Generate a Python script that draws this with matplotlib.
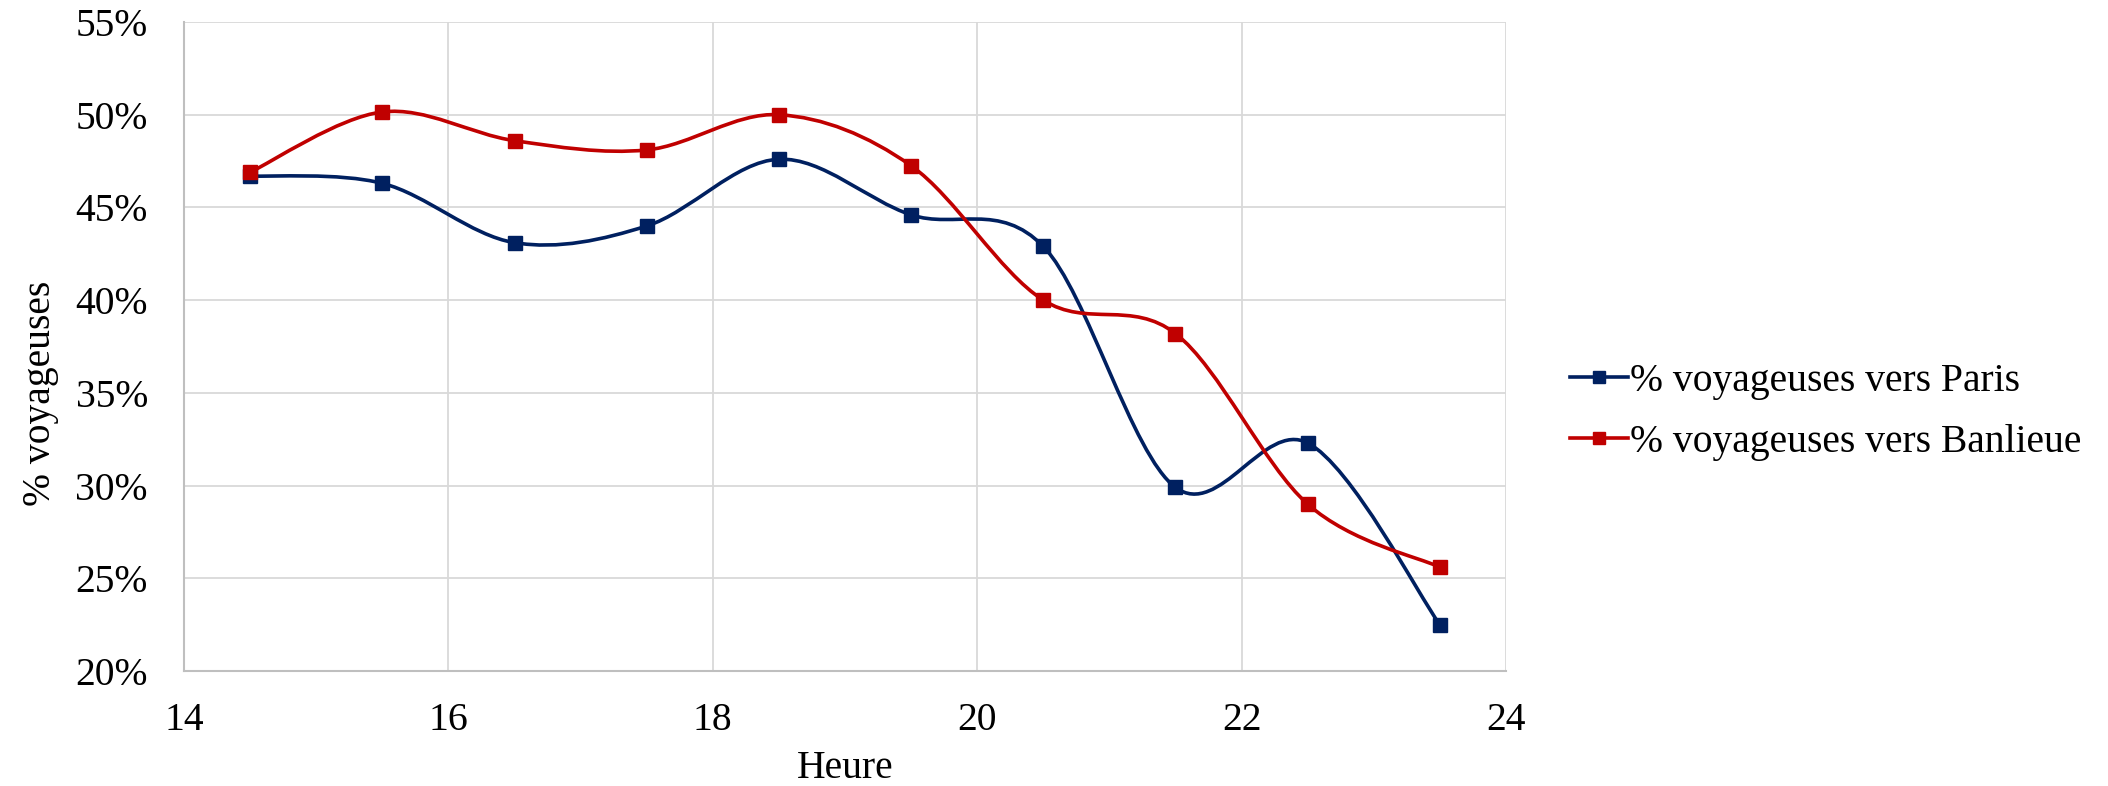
import numpy as np
import matplotlib
matplotlib.use('Agg')
import matplotlib.pyplot as plt
from matplotlib.path import Path
from matplotlib.patches import PathPatch
from matplotlib.lines import Line2D
from matplotlib.ticker import PercentFormatter

# Données
heures = [14.5, 15.5, 16.5, 17.5, 18.5, 19.5, 20.5, 21.5, 22.5, 23.5]
paris = [46.7, 46.3, 43.1, 44.0, 47.6, 44.6, 42.9, 29.9, 32.3, 22.5]
banlieue = [46.9, 50.15, 48.6, 48.1, 50.0, 47.25, 40.0, 38.2, 29.0, 25.6]

BLEU = '#002060'
ROUGE = '#C00000'
TAILLE = 28.5

plt.rcParams['font.family'] = ['Liberation Serif', 'DejaVu Serif']


def courbe_lissee(x, y):
    """Chemin de Bézier type Excel (Catmull-Rom) passant par les points."""
    x = np.asarray(x, float)
    y = np.asarray(y, float)
    n = len(x)
    verts = [(x[0], y[0])]
    codes = [Path.MOVETO]
    for i in range(n - 1):
        x0, y0 = (x[i - 1], y[i - 1]) if i > 0 else (x[i], y[i])
        x3, y3 = (x[i + 2], y[i + 2]) if i + 2 < n else (x[i + 1], y[i + 1])
        c1 = (x[i] + (x[i + 1] - x0) / 6, y[i] + (y[i + 1] - y0) / 6)
        c2 = (x[i + 1] - (x3 - x[i]) / 6, y[i + 1] - (y3 - y[i]) / 6)
        verts += [c1, c2, (x[i + 1], y[i + 1])]
        codes += [Path.CURVE4] * 3
    return Path(verts, codes)


fig = plt.figure(figsize=(21.08, 7.86), dpi=100)
ax = fig.add_axes([0.0873, 0.1463, 0.6271, 0.8257])

for serie, couleur in [(paris, BLEU), (banlieue, ROUGE)]:
    ax.add_patch(PathPatch(courbe_lissee(heures, serie), facecolor='none',
                           edgecolor=couleur, lw=2.6, zorder=3))
    ax.plot(heures, serie, ls='none', marker='s', ms=10.5, color=couleur, zorder=4)

ax.set_xlim(14, 24)
ax.set_ylim(20, 55)
ax.set_xticks(np.arange(14, 25, 2))
ax.set_yticks(np.arange(20, 56, 5))
ax.yaxis.set_major_formatter(PercentFormatter(decimals=0))
ax.grid(True, color='#D9D9D9', lw=1.3, zorder=0)
ax.tick_params(length=0, labelsize=TAILLE)
ax.tick_params(axis='y', pad=26)
ax.tick_params(axis='x', pad=22)
for s in ['top', 'right']:
    ax.spines[s].set_visible(False)
for s in ['left', 'bottom']:
    ax.spines[s].set_color('#BFBFBF')
    ax.spines[s].set_linewidth(1.5)

fig.text(0.019, 0.5, '% voyageuses', rotation=90, ha='center', va='center', fontsize=TAILLE)
fig.text(0.401, 0.022, 'Heure', ha='center', va='center', fontsize=TAILLE)

handles = [Line2D([], [], color=BLEU, lw=2.6, marker='s', ms=9),
           Line2D([], [], color=ROUGE, lw=2.6, marker='s', ms=9)]
fig.legend(handles, ['% voyageuses vers Paris', '% voyageuses vers Banlieue'],
           loc='center left', bbox_to_anchor=(0.745, 0.476), frameon=False,
           fontsize=TAILLE, handlelength=1.45, handletextpad=0.05, labelspacing=0.62,
           borderaxespad=0, borderpad=0)

fig.savefig('out.png', dpi=100)
